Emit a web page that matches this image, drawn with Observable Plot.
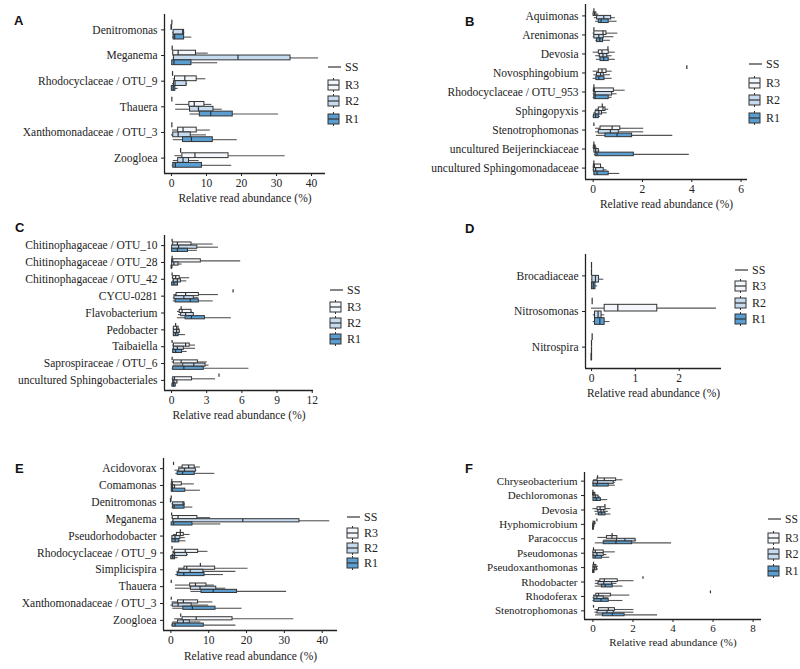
<!DOCTYPE html>
<html><head><meta charset="utf-8">
<script src="https://cdn.jsdelivr.net/npm/d3@7"></script>
<script src="https://cdn.jsdelivr.net/npm/@observablehq/plot@0.6"></script>
<style>
html,body{margin:0;padding:0;background:#fff;}
#chart{position:relative;width:800px;height:669px;overflow:hidden;background:#fff;}
#chart svg{position:absolute;}
#chart svg, #chart svg text{font-family:"Liberation Serif","DejaVu Serif",serif !important;}
#chart svg text.letter{font-family:"Liberation Sans","DejaVu Sans",sans-serif !important;font-weight:bold;}
</style></head><body><div id="chart"></div>
<script>
// ---------- data: [whisker low, Q1, median, Q3, whisker high] ----------
const groupNames = ["SS", "R3", "R2", "R1"];
const axisTitle = "Relative read abundance (%)";

// Panel A
const taxaA = ["Denitromonas","Meganema","Rhodocyclaceae / OTU_9","Thauera","Xanthomonadaceae / OTU_3","Zoogloea"];
const ssA = [0.1, 0.2, 0.3, 0.1, 0.1, 2.6];
const r3A = [[0,0,0,0.05,0.1],[0.3,0.5,1.9,7.0,10.5],[0.5,1.0,3.8,7.2,9.8],[1.2,5.1,6.5,9.4,11.5],[0.3,1.9,3.3,7.2,11.1],[1.0,3.1,6.7,16.3,32.5]];
const r2A = [[0.3,0.6,3.2,3.6,3.8],[0.5,0.7,19,34,42],[0.3,0.7,1.0,4.3,4.6],[1.2,5.3,7.7,12.0,14.5],[0,0.5,1.9,5.5,10],[0.5,1.9,3.3,5.0,7.9]];
const r1A = [[0.3,0.6,0.9,3.6,5.8],[0.2,0.2,0.7,5.7,13.2],[0.1,0.1,0.5,1.1,1.9],[5.3,8.1,11.2,17.5,30.6],[0.5,3.3,5.7,11.8,18.8],[0.2,0.5,1.1,8.7,17.2]];
const ticksA = [0,10,20,30,40];

// Panel B
const taxaB = ["Aquimonas","Arenimonas","Devosia","Novosphingobium","Rhodocyclaceae / OTU_953","Sphingopyxis","Stenotrophomonas","uncultured Beijerinckiaceae","uncultured Sphingomonadaceae"];
const ssB = [0.03, 0.03, 0.6, 3.8, 0.03, 0.37, 0.03, 0.03, 0.03];
const r3B = [[0,0.02,0.05,0.13,0.23],[0,0.05,0.4,0.54,1.0],[0,0.23,0.36,0.63,0.9],[0,0.23,0.36,0.54,0.77],[0,0.03,0.05,0.84,1.3],[0.1,0.23,0.4,0.5,0.63],[0.1,0.3,0.77,1.1,2.05],[0,0.03,0.06,0.1,0.16],[0,0.03,0.05,0.32,0.35]];
const r2B = [[0.05,0.16,0.43,0.73,0.9],[0,0.05,0.23,0.43,0.84],[0.1,0.27,0.4,0.57,0.77],[0.03,0.16,0.3,0.43,0.7],[0,0.05,0.08,0.77,0.97],[0.03,0.1,0.23,0.36,0.57],[0.1,0.23,0.7,1.04,2.05],[0.03,0.05,0.1,0.23,0.27],[0,0.03,0.1,0.43,0.57]];
const r1B = [[0.1,0.23,0.32,0.63,0.97],[0.1,0.16,0.27,0.4,0.7],[0.13,0.3,0.43,0.63,0.9],[0,0.13,0.23,0.46,0.77],[0,0.05,0.08,0.63,0.77],[0,0.03,0.1,0.23,0.3],[0.13,0.5,0.97,1.58,3.23],[0.05,0.1,0.16,1.65,3.9],[0.03,0.05,0.16,0.63,1.08]];
const ticksB = [0,2,4,6];

// Panel C
const taxaC = ["Chitinophagaceae / OTU_10","Chitinophagaceae / OTU_28","Chitinophagaceae / OTU_42","CYCU-0281","Flavobacterium","Pedobacter","Taibaiella","Saprospiraceae / OTU_6","uncultured Sphingobacteriales"];
const ssC = [0.05,0.05,0.05,5.25,0.82,0.35,0.05,0.05,4.05];
const r3C = [[0.05,0.14,0.5,1.7,3.55],[0,0.05,0.1,2.5,5.9],[0.05,0.14,0.35,0.7,1.55],[0.2,0.43,1.2,2.33,4.0],[0.5,0.7,0.9,1.7,1.75],[0.15,0.2,0.43,0.6,0.7],[0.1,0.2,1.2,1.55,2.05],[0.05,0.2,0.82,2.25,3.05],[0.05,0.14,0.25,1.75,3.75]];
const r2C = [[0.05,0.05,0.6,2.2,4.0],[0,0.05,0.2,0.6,0.9],[0.1,0.2,0.5,0.8,1.3],[0.15,0.25,1.05,1.9,2.33],[0.6,0.82,1.2,1.9,1.9],[0.15,0.2,0.43,0.7,0.77],[0.1,0.2,0.5,1.05,2.05],[0.15,1.0,1.9,2.9,3.2],[0.1,0.14,0.2,0.5,0.55]];
const r1C = [[0.05,0.05,0.5,1.4,2.2],[0,0,0.02,0.05,0.1],[0.05,0.05,0.2,0.55,0.6],[0.15,0.35,1.6,2.33,3.55],[0.5,1.2,1.7,2.85,5.1],[0.15,0.2,0.35,0.6,1.2],[0.1,0.14,0.35,0.9,1.33],[0.05,0.14,1.05,2.75,6.6],[0.05,0.08,0.15,0.35,0.43]];
const ticksC = [0,3,6,9,12];

// Panel D
const taxaD = ["Brocadiaceae","Nitrosomonas","Nitrospira"];
const ssD = [0, 0.015, 0.015];
const r3D = [[0,0,0,0,0],[0,0.3,0.6,1.5,2.85],[0,0,0,0,0.01]];
const r2D = [[0,0.02,0.09,0.17,0.28],[0.04,0.08,0.15,0.23,0.3],[0,0,0,0,0.01]];
const r1D = [[0,0.01,0.04,0.09,0.14],[0.04,0.08,0.19,0.3,0.42],[0,0,0,0.01,0.02]];
const ticksD = [0,1,2];

// Panel E
const taxaE = ["Acidovorax","Comamonas","Denitromonas","Meganema","Pseudorhodobacter","Rhodocyclaceae / OTU_9","Simplicispira","Thauera","Xanthomonadaceae / OTU_3","Zoogloea"];
const ssE = [0.7, 0.25, 0.1, 0.2, 2.5, 0.3, 7.8, 0.1, 0.1, 2.6];
const r3E = [[2.0,3.1,4.7,6.3,7.8],[0.1,0.25,0.4,2.9,6.2],[0,0,0,0.05,0.1],[0.3,0.5,1.9,7.0,10.5],[0.7,1.6,2.5,3.4,5.1],[0.5,1.0,3.8,7.2,9.8],[2.0,3.6,4.2,11.7,20.4],[1.2,5.1,6.5,9.4,11.5],[0.3,1.9,3.3,7.2,11.1],[1.0,3.1,6.7,16.3,32.5]];
const r2E = [[1.1,2.2,3.6,6.6,6.9],[0.1,0.25,0.4,1.1,1.3],[0.3,0.6,3.2,3.6,3.8],[0.5,0.7,19,34,42],[0.3,0.4,1.1,2.5,3.8],[0.3,0.7,1.0,4.3,4.6],[1.6,2.2,5.1,8.6,17.2],[1.2,5.3,7.7,12.0,14.5],[0,0.5,1.9,5.5,10],[0.5,1.9,3.3,5.0,7.9]];
const r1E = [[1.3,1.8,3.1,6.3,11.6],[0.1,0.25,0.4,3.8,7.8],[0.3,0.6,0.9,3.6,5.8],[0.2,0.2,0.7,5.7,13.2],[0.3,0.4,1.1,2.2,4.0],[0.1,0.1,0.5,1.1,1.9],[1.3,1.8,3.4,8.9,13.9],[5.3,8.1,11.2,17.5,30.6],[0.5,3.3,5.7,11.8,18.8],[0.2,0.5,1.1,8.7,17.2]];
const ticksE = [0,10,20,30,40];

// Panel F
const taxaF = ["Chryseobacterium","Dechloromonas","Devosia","Hyphomicrobium","Paracoccus","Pseudomonas","Pseudoxanthomonas","Rhodobacter","Rhodoferax","Stenotrophomonas"];
const ssF = [0.23, 0, 0.6, 0.2, 0.96, 0.03, 0.03, 2.5, 5.87, 0.03];
const r3F = [[0.03,0.23,0.57,1.16,1.5],[0,0.01,0.03,0.12,0.17],[0,0.23,0.36,0.63,0.9],[0,0.03,0.06,0.12,0.17],[0.25,0.7,0.95,1.22,1.22],[0,0.03,0.12,0.54,1.12],[0,0.03,0.06,0.17,0.28],[0.12,0.37,0.57,1.24,2.05],[0.03,0.17,0.28,0.9,1.85],[0.1,0.3,0.77,1.1,2.05]];
const r2F = [[0,0.03,0.23,1.04,1.12],[0.02,0.03,0.12,0.28,0.37],[0.1,0.27,0.4,0.57,0.77],[0,0.01,0.03,0.07,0.08],[0.54,1.2,1.6,2.13,2.18],[0,0.03,0.2,0.54,0.7],[0,0.03,0.08,0.2,0.28],[0.12,0.28,0.54,0.96,1.2],[0,0.07,0.2,0.54,0.8],[0.1,0.23,0.7,1.04,2.05]];
const r1F = [[0,0.03,0.2,0.79,1.12],[0.02,0.03,0.17,0.4,0.74],[0.13,0.3,0.43,0.63,0.9],[0,0.01,0.02,0.04,0.05],[0.12,0.54,1.15,1.96,3.93],[0,0.03,0.12,0.45,0.84],[0,0.01,0.03,0.07,0.1],[0.12,0.45,0.62,0.99,1.5],[0,0.07,0.4,0.79,1.5],[0.13,0.5,0.97,1.58,3.23]];
const ticksF = [0,2,4,6,8];

// ---------- drawing ----------
const fillColors = ["#f3f6fb", "#c6dbef", "#5a9dd1"];
const slot = {SS: -0.28125, R3: -0.09375, R2: 0.09375, R1: 0.28125};
const hw = 0.09375;
const chart = document.getElementById("chart");

function panel(cfg) {
  const n = cfg.taxa.length;
  const boxes = [], ss = [];
  cfg.taxa.forEach((t, i) => {
    ss.push({i, v: cfg.ss[i], y: i + slot.SS});
    [["R3", cfg.r3], ["R2", cfg.r2], ["R1", cfg.r1]].forEach(([g, arr]) => {
      const [lo, q1, md, q3, hi] = arr[i];
      boxes.push({i, g, lo, q1, md, q3, hi, y: i + slot[g]});
    });
  });
  const [L, T, R, B] = cfg.frame;
  const [ox, oy, w, h] = cfg.box;
  const fs = cfg.fs || 11.5;
  const svg = Plot.plot({
    width: w, height: h,
    marginLeft: L - ox, marginRight: ox + w - R, marginTop: T - oy, marginBottom: oy + h - B,
    style: {fontSize: fs + "px", color: "#222", background: "transparent", overflow: "visible"},
    x: {domain: cfg.xDomain, ticks: cfg.xTicks, tickFormat: d => String(d), tickSize: 3, tickPadding: 2, label: null},
    y: {domain: [-0.6, n - 0.4], reverse: true, ticks: d3.range(n), tickFormat: i => cfg.taxa[i], tickSize: 3, tickPadding: 4, label: null},
    color: {domain: groupNames.slice(1), range: fillColors},
    marks: [
      Plot.ruleY(boxes, {y: "y", x1: "lo", x2: "q1", stroke: "#555", strokeWidth: 1.1}),
      Plot.ruleY(boxes, {y: "y", x1: "q3", x2: "hi", stroke: "#555", strokeWidth: 1.1}),
      Plot.rect(boxes, {x1: "q1", x2: "q3", y1: d => d.y - hw, y2: d => d.y + hw, fill: "g", stroke: "#333", strokeWidth: 1}),
      Plot.ruleX(boxes, {x: "md", y1: d => d.y - hw, y2: d => d.y + hw, stroke: "#333", strokeWidth: 1.2}),
      Plot.ruleX(ss, {x: "v", y1: d => d.y - hw, y2: d => d.y + hw, stroke: "#333", strokeWidth: 1.2}),
      Plot.ruleX([cfg.xDomain[0]], {stroke: "#222", strokeWidth: 1.3}),
      Plot.ruleY([n - 0.4], {stroke: "#222", strokeWidth: 1.3}),
      Plot.text([axisTitle], {text: d => d, frameAnchor: "bottom", dy: cfg.titleDy, fontSize: fs, fill: "#222"})
    ]
  });
  svg.style.left = ox + "px";
  svg.style.top = oy + "px";
  const s = d3.select(svg);
  // panel letter
  s.append("text").attr("class", "letter").attr("text-anchor", "start")
    .attr("x", cfg.letter[1] - ox).attr("y", cfg.letter[2] - oy).attr("dy", "0.35em")
    .attr("font-size", 13).attr("fill", "#111").text(cfg.letter[0]);
  // legend
  const lg = s.append("g").attr("font-size", fs + 0.5).attr("fill", "#222").attr("text-anchor", "start");
  const lx = cfg.legend[0] - ox;
  const ys = cfg.legend.slice(1).map(y => y - oy);
  lg.append("line").attr("x1", lx).attr("x2", lx + 13).attr("y1", ys[0]).attr("y2", ys[0]).attr("stroke", "#333").attr("stroke-width", 1.2);
  lg.append("text").attr("x", lx + 17).attr("y", ys[0]).attr("dy", "0.35em").text(groupNames[0]);
  groupNames.slice(1).forEach((k, j) => {
    const y = ys[j + 1];
    lg.append("line").attr("x1", lx + 5.5).attr("x2", lx + 5.5).attr("y1", y - 7).attr("y2", y + 7).attr("stroke", "#333");
    lg.append("rect").attr("x", lx).attr("y", y - 5).attr("width", 11).attr("height", 10)
      .attr("fill", fillColors[j]).attr("stroke", "#333");
    lg.append("line").attr("x1", lx).attr("x2", lx + 11).attr("y1", y).attr("y2", y).attr("stroke", "#333").attr("stroke-width", 1.2);
    lg.append("text").attr("x", lx + 17).attr("y", y).attr("dy", "0.35em").text(k);
  });
  chart.appendChild(svg);
}

panel({taxa: taxaA, ss: ssA, r3: r3A, r2: r2A, r1: r1A, xTicks: ticksA, xDomain: [-2, 44],
  frame: [164, 14, 325, 173], box: [0, 0, 400, 215], titleDy: 28, letter: ["A", 14, 20], legend: [328, 67, 85, 101, 119]});
panel({taxa: taxaB, ss: ssB, r3: r3B, r2: r2B, r1: r1B, xTicks: ticksB, xDomain: [-0.31, 6.26],
  frame: [585, 4, 747, 179], box: [400, 0, 400, 215], titleDy: 28, letter: ["B", 465, 21], legend: [749, 64, 83, 100, 118]});
panel({taxa: taxaC, ss: ssC, r3: r3C, r2: r2C, r1: r1C, xTicks: ticksC, xDomain: [-0.6, 12.11],
  frame: [164, 235, 313, 390], box: [0, 215, 400, 210], titleDy: 28, letter: ["C", 15, 227], legend: [330, 290, 307, 323, 339]});
panel({taxa: taxaD, ss: ssD, r3: r3D, r2: r2D, r1: r1D, xTicks: ticksD, xDomain: [-0.137, 2.965],
  frame: [585, 254, 721, 368], box: [400, 215, 400, 210], titleDy: 28, letter: ["D", 465, 228], legend: [735, 270, 286, 303, 319]});
panel({taxa: taxaE, ss: ssE, r3: r3E, r2: r2E, r1: r1E, xTicks: ticksE, xDomain: [-1.95, 44.05],
  frame: [163, 458, 337, 630], box: [0, 425, 400, 244], titleDy: 29, letter: ["E", 15, 468], legend: [347, 517, 533, 548, 563]});
panel({taxa: taxaF, ss: ssF, r3: r3F, r2: r2F, r1: r1F, xTicks: ticksF, xDomain: [-0.42, 8.42], fs: 11,
  frame: [584, 472, 761, 619], box: [400, 425, 400, 244], titleDy: 26, letter: ["F", 465, 468], legend: [768, 519, 538, 554, 571]});
</script>
</body></html>
